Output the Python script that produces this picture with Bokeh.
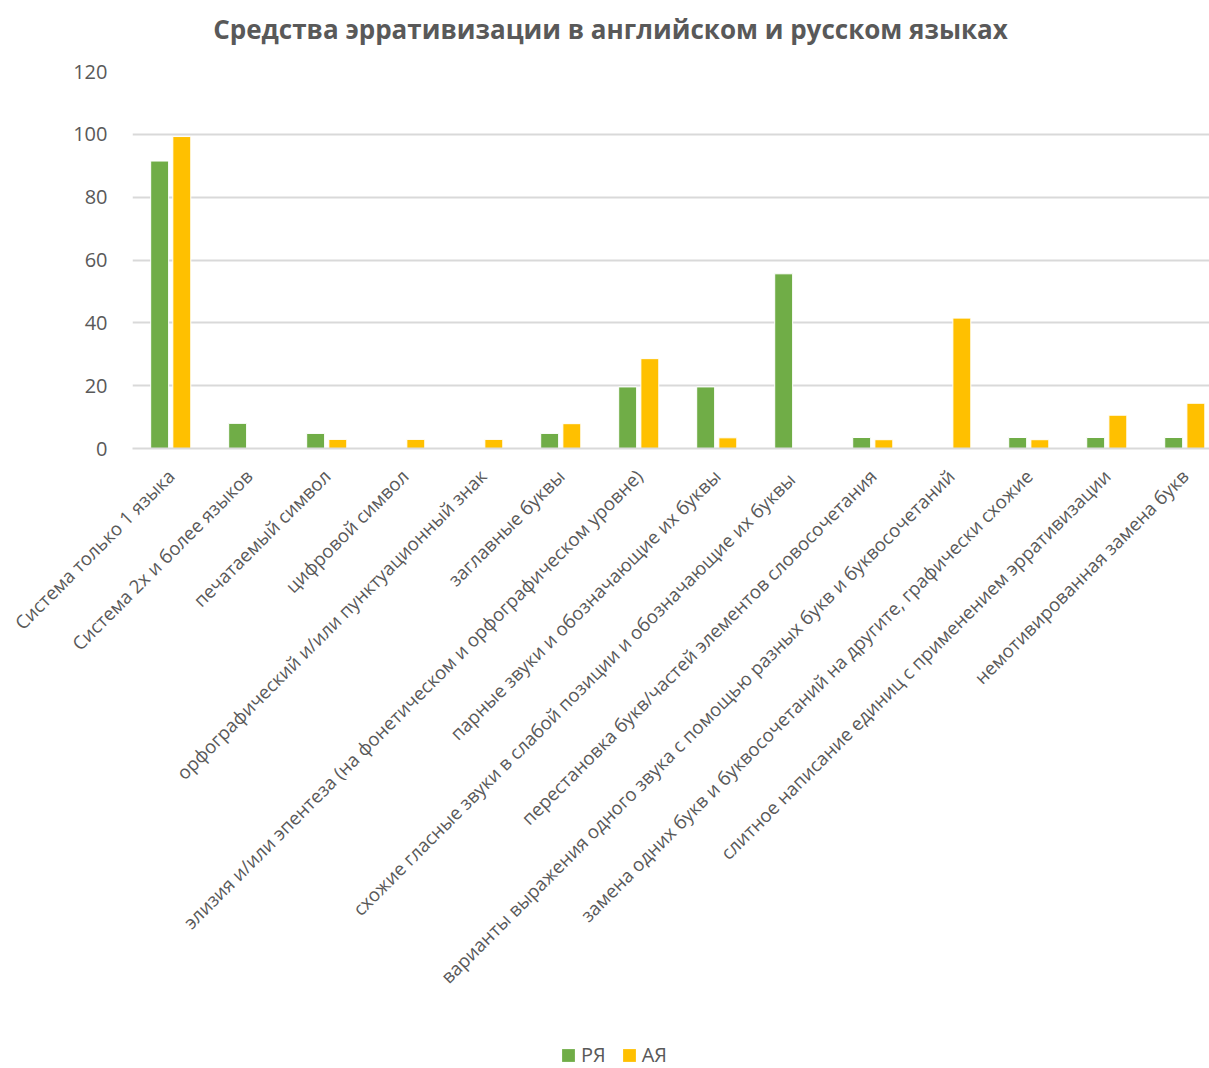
import math
from bokeh.plotting import figure
from bokeh.layouts import column
from bokeh.models import Range1d, FixedTicker, Legend, LegendItem, ColumnDataSource, Label
from bokeh.transform import dodge
from bokeh.embed import file_html
from bokeh.resources import INLINE

title_text = "Средства эрративизации в английском и русском языках"
categories = [
    "Система только 1 языка",
    "Система 2х и более языков",
    "печатаемый символ",
    "цифровой символ",
    "орфографический и/или пунктуационный знак",
    "заглавные буквы",
    "элизия и/или эпентеза (на фонетическом и орфографическом уровне)",
    "парные звуки и обозначающие их буквы",
    "схожие гласные звуки в слабой позиции и обозначающие их  буквы",
    "перестановка букв/частей элементов словосочетания",
    "варианты выражения одного звука с помощью разных букв и буквосочетаний",
    "замена одних букв и буквосочетаний на другите, графически схожие",
    "слитное написание единиц с применением эрративизации",
    "немотивированная замена букв",
]
ru_values = [91.5, 8, 4.8, 0, 0, 4.8, 19.6, 19.6, 55.6, 3.5, 0, 3.5, 3.5, 3.5]
en_values = [99.3, 0, 2.9, 2.9, 2.9, 7.9, 28.6, 3.4, 0, 2.8, 41.5, 2.8, 10.6, 14.4]
series_names = ["РЯ", "АЯ"]
y_ticks = [0, 20, 40, 60, 80, 100, 120]

GREEN = "#70AD47"
YELLOW = "#FFC000"
GREY = "#595959"
FONT = "Open Sans"

xs = list(range(len(categories)))
src = ColumnDataSource(dict(x=xs, ru=ru_values, en=en_values))


def strip(height, x_end):
    f = figure(width=1209, height=height, output_backend="svg", toolbar_location=None,
               x_range=Range1d(0, x_end), y_range=Range1d(0, height),
               x_axis_location=None, y_axis_location=None, title=None,
               min_border_left=0, min_border_right=0, min_border_top=0, min_border_bottom=0)
    f.outline_line_color = None
    f.xgrid.grid_line_color = None
    f.ygrid.grid_line_color = None
    return f


# title strip (its frame is aligned with the main frame, which starts at 132px)
pt = strip(56, 1077)
pt.add_layout(Label(x=478, y=28, text=title_text, text_align="center", text_baseline="middle",
                    text_font=FONT, text_font_size="26px", text_font_style="bold",
                    text_color=GREY))

p = figure(width=1209, height=974, output_backend="svg", toolbar_location=None, title=None,
           x_range=Range1d(-0.49, 13.317), y_range=Range1d(0, 120),
           min_border_left=132, min_border_right=0, min_border_top=15, min_border_bottom=582)

p.outline_line_color = None
p.background_fill_color = "white"
p.border_fill_color = "white"

w = 0.23
off = 0.142
r1 = p.vbar(x=dodge("x", -off), top="ru", width=w, source=src,
            fill_color=GREEN, line_color="white", line_width=1)
r2 = p.vbar(x=dodge("x", off), top="en", width=w, source=src,
            fill_color=YELLOW, line_color="white", line_width=1)

p.xaxis.ticker = FixedTicker(ticks=xs)
p.xaxis.major_label_overrides = {i: c for i, c in enumerate(categories)}
p.xaxis.major_label_orientation = math.pi / 4
p.xaxis.major_label_text_font = FONT
p.xaxis.major_label_text_font_size = "18.6px"
p.xaxis.major_label_text_color = GREY
p.xaxis.major_tick_line_color = None
p.xaxis.minor_tick_line_color = None
p.xaxis.axis_line_color = "#D9D9D9"
p.xaxis.axis_line_width = 2
p.xaxis.major_label_standoff = 18

p.yaxis.ticker = FixedTicker(ticks=y_ticks)
p.yaxis.major_label_text_font = FONT
p.yaxis.major_label_text_font_size = "20px"
p.yaxis.major_label_text_color = GREY
p.yaxis.axis_line_color = None
p.yaxis.major_tick_line_color = None
p.yaxis.minor_tick_line_color = None
p.yaxis.major_label_standoff = 19

p.xgrid.grid_line_color = None
p.ygrid.grid_line_color = "#D9D9D9"
p.ygrid.grid_line_width = 2
p.ygrid.ticker = FixedTicker(ticks=y_ticks)

# legend strip
pl = strip(38, 1)
d1 = pl.vbar(x=[5], top=[5], width=0.1, fill_color=GREEN, line_color=None)
d2 = pl.vbar(x=[5], top=[5], width=0.1, fill_color=YELLOW, line_color=None)
legend = Legend(items=[LegendItem(label=series_names[0], renderers=[d1]),
                       LegendItem(label=series_names[1], renderers=[d2])],
                orientation="horizontal", location=(428, 0),
                label_text_font=FONT, label_text_font_size="20px", label_text_color=GREY,
                glyph_width=16, glyph_height=16, spacing=15, label_standoff=5,
                border_line_color=None, background_fill_alpha=0, padding=0, margin=0)
pl.add_layout(legend, "center")

layout = column(pt, p, pl, spacing=0)
open("out.html", "w").write(file_html(layout, INLINE))
